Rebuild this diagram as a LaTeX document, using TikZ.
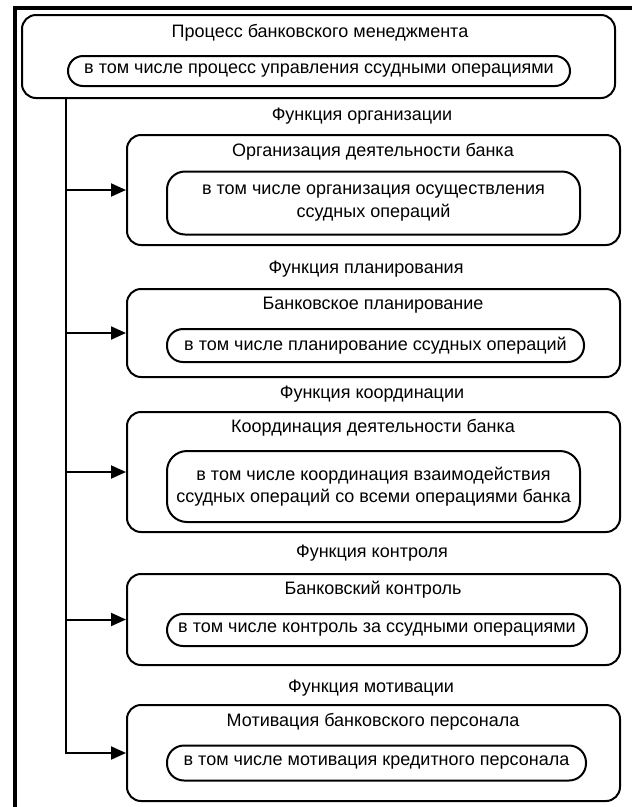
\documentclass[tikz,border=0pt]{standalone}
\usepackage{fontspec}
\setmainfont{Liberation Sans}
\usetikzlibrary{arrows.meta}
\begin{document}
\begin{tikzpicture}[x=1pt,y=-1pt,
  font=\fontsize{18}{22.5}\selectfont,
  bigbox/.style={draw, line width=2pt, rounded corners=14pt, inner sep=0pt},
  pillbox/.style={draw, line width=2pt, inner sep=0pt, align=center},
  lbl/.style={inner sep=0pt, anchor=center},
  arr/.style={line width=2pt, -{Triangle[length=15pt,width=13pt]}}]
\useasboundingbox (0,0) rectangle (632,807);
% outer frame (only left and top edges visible)
\draw[line width=4pt] (15,809) -- (15,8) -- (634,8);
% top box
\node[bigbox, minimum width=593pt, minimum height=83pt] (top) at (318.5,56.5) {};
\node[lbl] (t1) at (320,33) {Процесс банковского менеджмента};
\node[pillbox, rounded corners=15pt, minimum width=502pt, minimum height=30pt] (p1) at (319,71) {в том числе процесс управления ссудными операциями};
% box 2
\node[lbl] (f1) at (362,116) {Функция организации};
\node[bigbox, minimum width=493pt, minimum height=110pt] (b2) at (373.5,190) {};
\node[lbl] (t2) at (373,152) {Организация деятельности банка};
\node[pillbox, rounded corners=18pt, minimum width=413pt, minimum height=63pt] (p2) at (373.5,203) {в том числе организация осуществления\\ссудных операций};
% box 3
\node[lbl] (f2) at (366,269) {Функция планирования};
\node[bigbox, minimum width=493pt, minimum height=88pt] (b3) at (373.5,333) {};
\node[lbl] (t3) at (373,305) {Банковское планирование};
\node[pillbox, rounded corners=16pt, minimum width=417pt, minimum height=33pt] (p3) at (375.5,345.5) {в том числе планирование ссудных операций};
% box 4
\node[lbl] (f3) at (372,394) {Функция координации};
\node[bigbox, minimum width=493pt, minimum height=120pt] (b4) at (373.5,472) {};
\node[lbl] (t4) at (373,428) {Координация деятельности банка};
\node[pillbox, rounded corners=20pt, minimum width=413pt, minimum height=71pt] (p4) at (373.5,486.5) {в том числе координация взаимодействия\\ссудных операций со всеми операциями банка};
% box 5
\node[lbl] (f4) at (372,553) {Функция контроля};
\node[bigbox, minimum width=493pt, minimum height=91pt] (b5) at (373.5,619.5) {};
\node[lbl] (t5) at (373,590) {Банковский контроль};
\node[pillbox, rounded corners=16pt, minimum width=420pt, minimum height=32pt] (p5) at (377,630) {в том числе контроль за ссудными операциями};
% box 6
\node[lbl] (f5) at (371,688) {Функция мотивации};
\node[bigbox, minimum width=493pt, minimum height=96pt] (b6) at (373.5,753) {};
\node[lbl] (t6) at (373,722) {Мотивация банковского персонала};
\node[pillbox, rounded corners=17pt, minimum width=419pt, minimum height=35pt] (p6) at (376.5,763) {в том числе мотивация кредитного персонала};
% connectors
\coordinate (sp) at (66,0);
\draw[arr] (top.south -| sp) -- (sp |- b6.west) -- (b6.west);
\draw[arr] (sp |- b2.west) -- (b2.west);
\draw[arr] (sp |- b3.west) -- (b3.west);
\draw[arr] (sp |- b4.west) -- (b4.west);
\draw[arr] (sp |- b5.west) -- (b5.west);
\end{tikzpicture}
\end{document}
